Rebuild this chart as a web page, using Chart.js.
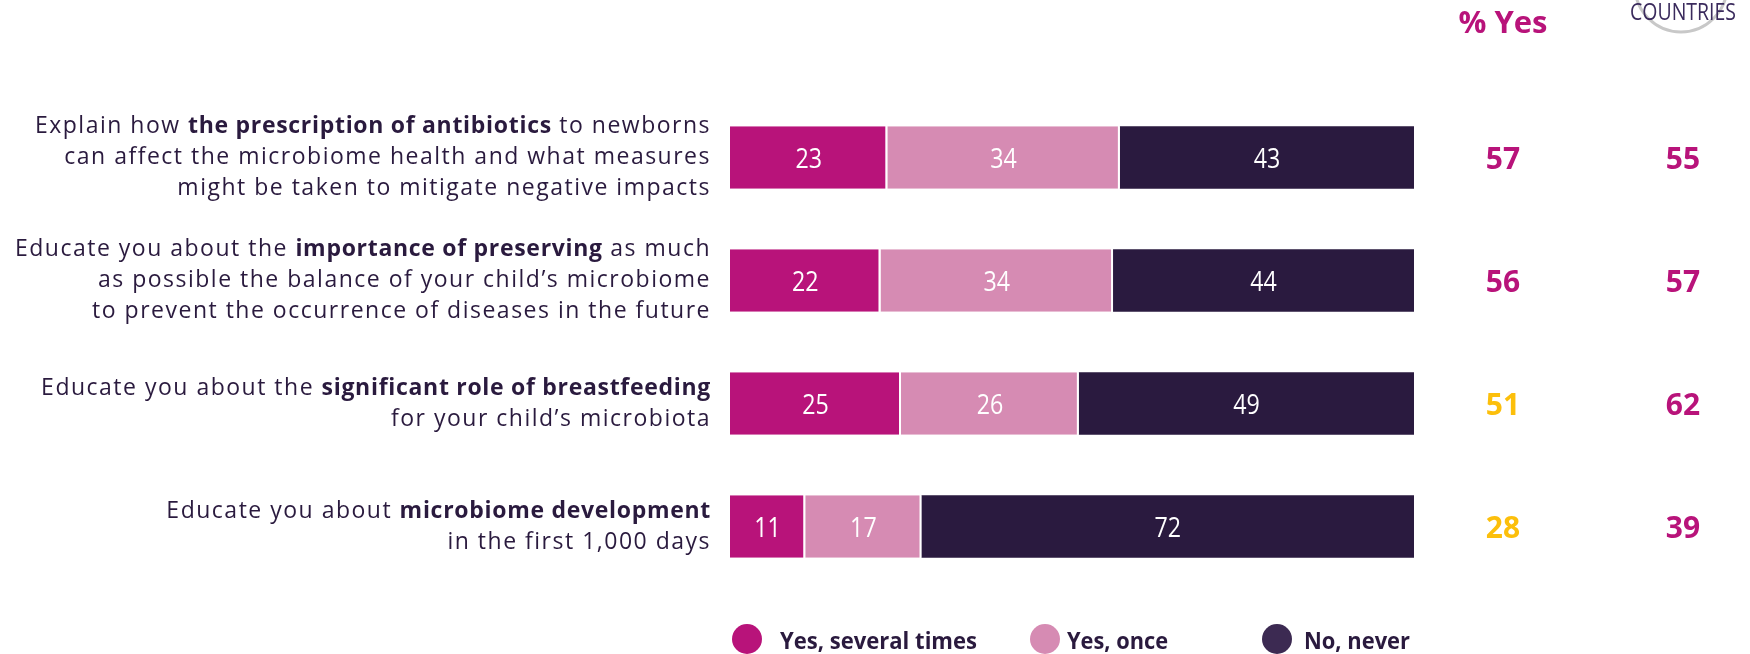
<!DOCTYPE html>
<html>
<head>
<meta charset="utf-8">
<script src="https://cdn.jsdelivr.net/npm/chart.js@4.4.1/dist/chart.umd.min.js"></script>
<style>
  html, body { margin: 0; padding: 0; background: #ffffff; }
  #wrap { width: 1750px; height: 654px; position: relative; }
</style>
</head>
<body>
<div id="wrap"><canvas id="c" width="1750" height="654"></canvas></div>
<script>
// ---------- DATA ----------
const categories = [
  ['Explain how **the prescription of antibiotics** to newborns',
   'can affect the microbiome health and what measures',
   'might be taken to mitigate negative impacts'],
  ['Educate you about the **importance of preserving** as much',
   'as possible the balance of your child\u2019s microbiome',
   'to prevent the occurrence of diseases in the future'],
  ['Educate you about the **significant role of breastfeeding**',
   'for your child\u2019s microbiota'],
  ['Educate you about **microbiome development**',
   'in the first 1,000 days']
];
const seriesNames = ['Yes, several times', 'Yes, once', 'No, never'];
const yesSeveralTimes = [23, 22, 25, 11];
const yesOnce = [34, 34, 26, 17];
const noNever = [43, 44, 49, 72];
const pctYes = [57, 56, 51, 28];
const allCountries = [55, 57, 62, 39];
const headerYes = '% Yes';
const headerCountries = 'COUNTRIES';

// ---------- STYLE ----------
const C_MAGENTA = '#b8137a';
const C_PINK = '#d68bb3';
const C_DARK = '#2a1a3f';
const C_TEXT = '#2a1a3e';
const C_YELLOW = '#fcbf0b';
const LABEL_FONT = '"Open Sans", "Noto Sans", sans-serif';

function drawRichLine(ctx, line, rightX, y, size) {
  const parts = line.split('**');
  const fonts = parts.map((p, i) => (i % 2 === 1 ? '700 ' : '400 ') + size + 'px ' + LABEL_FONT);
  const spacing = parts.map((p, i) => (i % 2 === 1 ? '0.7px' : '1.5px'));
  let total = 0;
  const widths = parts.map((p, i) => {
    ctx.font = fonts[i];
    if ('letterSpacing' in ctx) ctx.letterSpacing = spacing[i];
    const w = ctx.measureText(p).width; total += w; return w;
  });
  let x = rightX - total;
  parts.forEach((p, i) => {
    ctx.font = fonts[i];
    if ('letterSpacing' in ctx) ctx.letterSpacing = spacing[i];
    ctx.fillText(p, x, y);
    x += widths[i];
  });
  if ('letterSpacing' in ctx) ctx.letterSpacing = '0px';
}

const overlay = {
  id: 'overlay',
  afterDatasetsDraw(chart) {
    const ctx = chart.ctx;
    ctx.save();
    ctx.fillStyle = '#ffffff';
    ctx.textAlign = 'center';
    ctx.textBaseline = 'alphabetic';
    ctx.font = '400 27px ' + LABEL_FONT;
    chart.data.datasets.forEach((ds, di) => {
      const meta = chart.getDatasetMeta(di);
      meta.data.forEach((bar, i) => {
        const cx = (bar.x + bar.base) / 2;
        const txt = String(ds.data[i]);
        const w = ctx.measureText(txt).width * 0.86;
        ctx.fillText(txt, cx, bar.y + 10, w);
      });
    });
    ctx.restore();
  },
  afterDraw(chart) {
    const ctx = chart.ctx;
    const yScale = chart.scales.y;
    ctx.save();

    // left category labels
    ctx.fillStyle = C_TEXT;
    ctx.textAlign = 'left';
    ctx.textBaseline = 'middle';
    categories.forEach((lines, i) => {
      const cy = yScale.getPixelForValue(i);
      const n = lines.length;
      lines.forEach((ln, k) => {
        drawRichLine(ctx, ln, 711, cy + (k - (n - 1) / 2) * 31, 23);
      });
    });

    // right columns
    const colYes = 1503, colAll = 1683;
    ctx.textAlign = 'center';
    ctx.textBaseline = 'alphabetic';
    ctx.font = '700 30px ' + LABEL_FONT;
    pctYes.forEach((v, i) => {
      const cy = yScale.getPixelForValue(i);
      ctx.fillStyle = (v - allCountries[i] <= -5) ? C_YELLOW : C_MAGENTA;
      ctx.fillText(String(v), colYes, cy + 11);
      ctx.fillStyle = C_MAGENTA;
      ctx.fillText(String(allCountries[i]), colAll, cy + 11);
    });

    // headers
    ctx.fillStyle = C_MAGENTA;
    ctx.font = '700 31px ' + LABEL_FONT;
    ctx.fillText(headerYes, colYes, 33);

    ctx.strokeStyle = '#c8c8c8';
    ctx.lineWidth = 3;
    ctx.beginPath();
    ctx.arc(1681, -14, 46, 0, Math.PI * 2);
    ctx.stroke();

    ctx.fillStyle = '#3a2a5c';
    ctx.font = '400 24px ' + LABEL_FONT;
    ctx.fillText(headerCountries, colAll, 20, 106);

    // legend
    const legendCircles = [747, 1045, 1277];
    const legendText = [780, 1067, 1304];
    const legendMax = [197, 101, 106];
    const legendColors = [C_MAGENTA, C_PINK, '#3c2a52'];
    ctx.textAlign = 'left';
    ctx.font = '700 24px ' + LABEL_FONT;
    seriesNames.forEach((name, i) => {
      ctx.fillStyle = legendColors[i];
      ctx.beginPath();
      ctx.arc(legendCircles[i], 639, 15, 0, Math.PI * 2);
      ctx.fill();
      ctx.fillStyle = C_TEXT;
      ctx.fillText(name, legendText[i], 649, legendMax[i]);
    });
    ctx.restore();
  }
};

const gapBorder = { top: 0, right: 2, bottom: 0, left: 0 };

new Chart(document.getElementById('c'), {
  type: 'bar',
  data: {
    labels: categories.map((c, i) => 'c' + i),
    datasets: [
      { label: seriesNames[0], data: yesSeveralTimes, backgroundColor: C_MAGENTA, borderColor: '#ffffff', borderWidth: gapBorder, borderSkipped: false },
      { label: seriesNames[1], data: yesOnce, backgroundColor: C_PINK, borderColor: '#ffffff', borderWidth: gapBorder, borderSkipped: false },
      { label: seriesNames[2], data: noNever, backgroundColor: C_DARK, borderWidth: 0 }
    ]
  },
  options: {
    indexAxis: 'y',
    responsive: false,
    animation: false,
    maintainAspectRatio: false,
    layout: { padding: { left: 730, right: 336, top: 96, bottom: 66 } },
    scales: {
      x: { stacked: true, min: 0, max: 100, display: false },
      y: { stacked: true, display: false }
    },
    datasets: { bar: { categoryPercentage: 0.51, barPercentage: 1 } },
    plugins: { legend: { display: false }, tooltip: { enabled: false } }
  },
  plugins: [overlay]
});
</script>
</body>
</html>
